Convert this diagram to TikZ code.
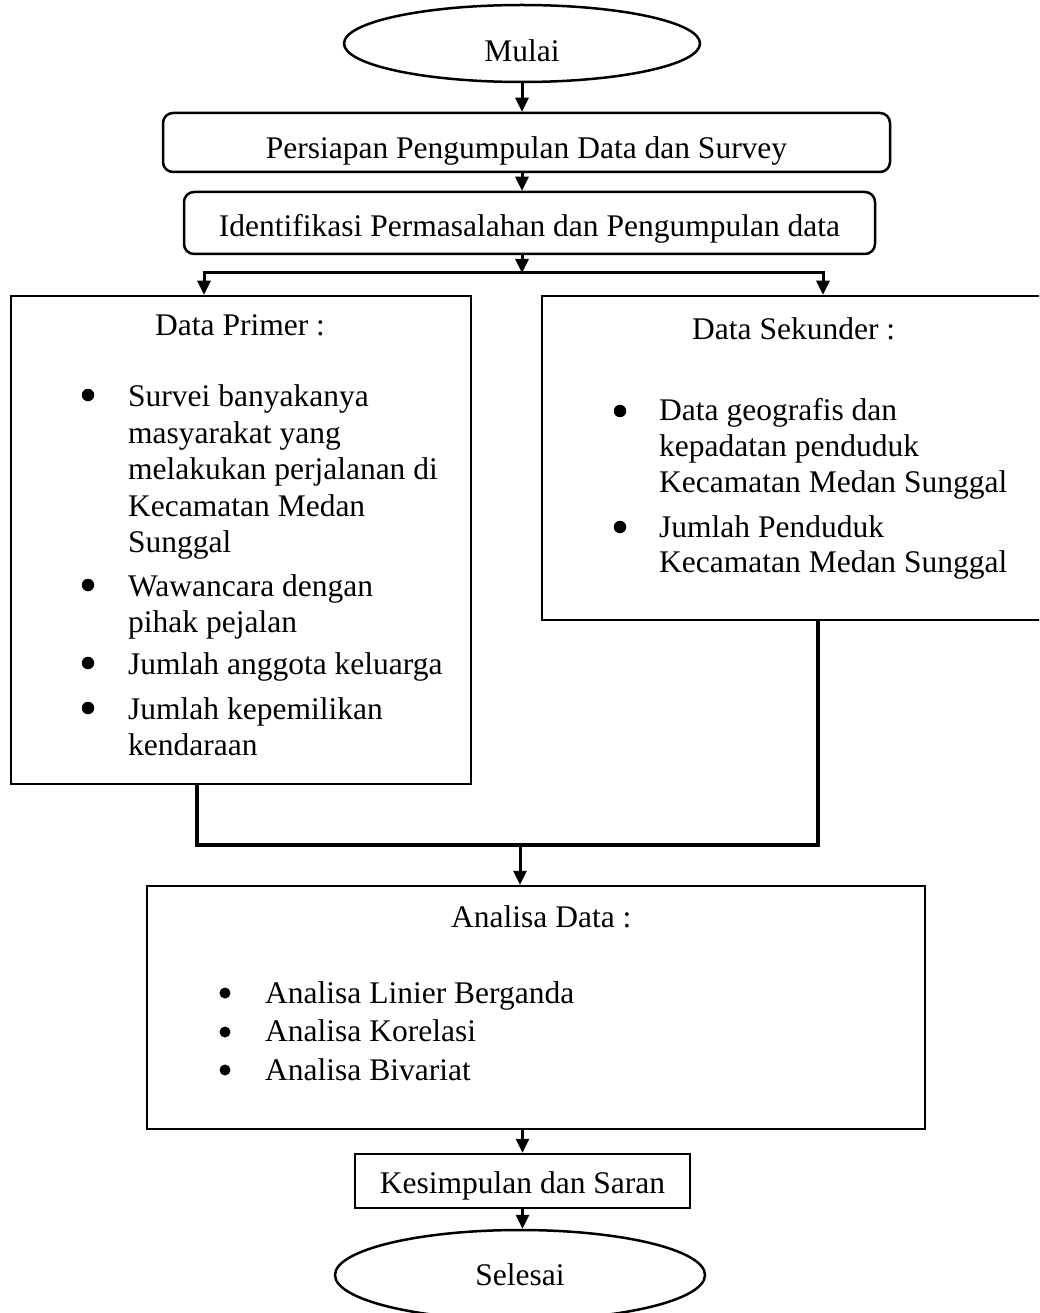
\documentclass[tikz,border=0pt]{standalone}
\usepackage{fontspec}
\setmainfont{Liberation Serif}
\usetikzlibrary{shapes.geometric,arrows.meta}
\begin{document}
\begin{tikzpicture}[x=1pt,y=-1pt,
  every node/.style={font={\fontsize{31.5}{36.5}\selectfont}, inner sep=0pt},
  rbox/.style={draw, line width=2.5pt, rounded corners=10pt, text depth=0pt},
  sbox/.style={draw, line width=2.5pt},
  oval/.style={draw, ellipse, line width=2.5pt, text depth=0pt},
  ln/.style={anchor=base west},
  dotm/.style={circle, fill, minimum size=12.5pt},
  arr/.style={line width=3pt, -{Triangle[length=14pt,width=13pt]}},
  link/.style={line width=3.5pt}]
\useasboundingbox (0,0) rectangle (1039,1313);
\clip (0,0) rectangle (1039,1313);
\fill[white] (0,0) rectangle (1039,1313);

% shapes
\node[oval, minimum width=356pt, minimum height=77pt, text height=37pt] (mulai) at (522,43.5) {Mulai};
\node[rbox, minimum width=727pt, minimum height=59pt, text height=33pt] (persiapan) at (526.5,142.5) {Persiapan Pengumpulan Data dan Survey};
\node[rbox, minimum width=691pt, minimum height=62pt, text height=28pt] (identifikasi) at (529.5,223) {Identifikasi Permasalahan dan Pengumpulan data};
\node[sbox, minimum width=460pt, minimum height=488pt] (primer) at (241,540) {};
\node[sbox, minimum width=502pt, minimum height=324pt] (sekunder) at (793,458) {};
\node[sbox, minimum width=778pt, minimum height=243pt] (analisa) at (536,1007.5) {};
\node[sbox, minimum width=335pt, minimum height=54pt, text height=24pt, text depth=0pt] (kesimpulan) at (522.5,1181) {Kesimpulan dan Saran};
\node[oval, minimum width=370pt, minimum height=90pt, text height=20pt] (selesai) at (520,1275) {Selesai};

% Data Primer content
\node[ln] (pt) at (155,335) {Data Primer :};
\node[dotm] (pb1) at (88,395) {};
\node[ln] (p1a) at (128,406) {Survei banyakanya};
\node[ln] (p1b) at (128,443) {masyarakat yang};
\node[ln] (p1c) at (128,479) {melakukan perjalanan di};
\node[ln] (p1d) at (128,516) {Kecamatan Medan};
\node[ln] (p1e) at (128,552) {Sunggal};
\node[dotm] (pb2) at (88,585) {};
\node[ln] (p2a) at (128,596) {Wawancara dengan};
\node[ln] (p2b) at (128,632) {pihak pejalan};
\node[dotm] (pb3) at (88,663) {};
\node[ln] (p3a) at (128,674) {Jumlah anggota keluarga};
\node[dotm] (pb4) at (88,708) {};
\node[ln] (p4a) at (128,719) {Jumlah kepemilikan};
\node[ln] (p4b) at (128,755) {kendaraan};

% Data Sekunder content
\node[ln] (st) at (692,339) {Data Sekunder :};
\node[dotm] (sb1) at (620,411) {};
\node[ln] (s1a) at (659,420) {Data geografis dan};
\node[ln] (s1b) at (659,456) {kepadatan penduduk};
\node[ln] (s1c) at (659,492) {Kecamatan Medan Sunggal};
\node[dotm] (sb2) at (620,527) {};
\node[ln] (s2a) at (659,537) {Jumlah Penduduk};
\node[ln] (s2b) at (659,572) {Kecamatan Medan Sunggal};

% Analisa content
\node[ln] (at) at (451,927) {Analisa Data :};
\node[dotm, minimum size=11pt] (ab1) at (225,993) {};
\node[ln] (a1) at (265,1003) {Analisa Linier Berganda};
\node[dotm, minimum size=11pt] (ab2) at (225,1032) {};
\node[ln] (a2) at (265,1041) {Analisa Korelasi};
\node[dotm, minimum size=11pt] (ab3) at (225,1070) {};
\node[ln] (a3) at (265,1080) {Analisa Bivariat};

% connectors
\coordinate (b0) at (522,273);
\coordinate (bl) at (204,273);
\coordinate (br) at (823,273);
\coordinate (ml) at (197,845);
\coordinate (mr) at (818,845);
\coordinate (mm) at (520,845);

\draw[arr] (mulai.south) -- (mulai.south |- persiapan.north);
\draw[arr] (persiapan.south -| mulai.south) -- (identifikasi.north -| mulai.south);
\draw[arr] (identifikasi.south -| b0) -- (b0);
\draw[line width=3pt, {Triangle[length=14pt,width=13pt]}-{Triangle[length=14pt,width=13pt]}]
  (bl |- primer.north) -- (bl) -- (br) -- (br |- sekunder.north);
\draw[link] (primer.south -| ml) -- (ml) -- (mr) -- (sekunder.south -| mr);
\draw[arr] (mm) -- (mm |- analisa.north);
\draw[arr] (analisa.south -| kesimpulan.north) -- (kesimpulan.north);
\draw[arr] (kesimpulan.south) -- (kesimpulan.south |- selesai.north);
\end{tikzpicture}
\end{document}
